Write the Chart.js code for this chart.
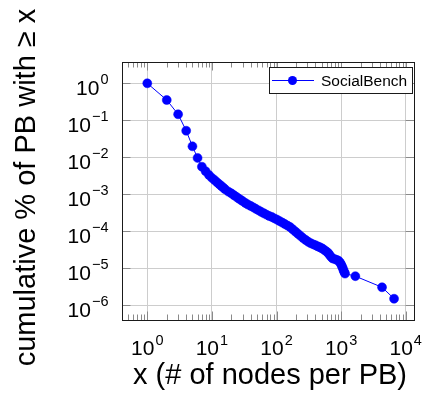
<!DOCTYPE html>
<html>
<head>
<meta charset="utf-8">
<script src="https://cdn.jsdelivr.net/npm/chart.js@4.4.0/dist/chart.umd.min.js"></script>
<style>
  html, body { margin: 0; padding: 0; background: #fff; }
  #wrap { width: 425px; height: 402px; }
</style>
</head>
<body>
<div id="wrap"><canvas id="chart" width="425" height="402"></canvas></div>
<script>
// nodes per PB and the share of PBs with at least that many nodes
var nodesPerPB = [
    1, 2, 3, 4, 5, 6, 7, 8, 9, 10,
    11, 12, 13, 14, 15, 16, 18, 20, 22, 24,
    26, 28, 30, 33, 36, 40, 44, 48, 53, 58,
    64, 70, 77, 85, 93, 102, 112, 123, 135, 148,
    162, 178, 195, 214, 235, 258, 283, 310, 340, 372,
    400, 430, 460, 495, 520, 560, 600, 630, 660, 700,
    740, 800, 860, 910, 960, 1000, 1030, 1060, 1090, 1120,
    1150, 1660, 4300, 6600
];
var cumulativeShare = [
    1, 0.353, 0.145, 0.0521, 0.0197, 0.00955, 0.00553, 0.00417, 0.00331, 0.00275,
    0.00240, 0.00209, 0.00186, 0.00166, 0.00150, 0.00136, 0.00117, 0.00105, 0.000933, 0.000841,
    0.000759, 0.000700, 0.000646, 0.000575, 0.000525, 0.000479, 0.000437, 0.000398, 0.000363, 0.000331,
    0.000302, 0.000279, 0.000257, 0.000240, 0.000221, 0.000204, 0.000186, 0.000170, 0.000155, 0.000141,
    0.000129, 0.000112, 0.0000977, 0.0000851, 0.0000741, 0.0000646, 0.0000575, 0.0000513, 0.0000468, 0.0000437,
    0.0000417, 0.0000389, 0.0000372, 0.0000347, 0.0000331, 0.0000302, 0.0000275, 0.0000257, 0.0000229, 0.0000200,
    0.0000182, 0.0000174, 0.0000166, 0.0000158, 0.0000141, 0.0000126, 0.0000112, 0.0000100, 0.00000871, 0.00000776,
    0.00000708, 0.00000603, 0.00000302, 0.00000148
];
var seriesLabel = 'SocialBench';

var xTickExponents = [0, 1, 2, 3, 4];
var yTickExponents = [0, -1, -2, -3, -4, -5, -6];
var xTitle = 'x (# of nodes per PB)';
var yTitle = 'cumulative % of PB with \u2265 x';

var FONT = '"Liberation Sans", Arial, sans-serif';
var BLUE = '#0000ff';

function decadeTicks(exps) {
    return exps.map(function (e) { return { value: Math.pow(10, e) }; });
}

function expText(e) {
    return e < 0 ? '\u2212' + (-e) : String(e);
}

// frame, inward ticks, 10^n labels, axis titles and the boxed legend
var pgfAxis = {
    id: 'pgfAxis',
    afterDraw: function (chart) {
        var ctx = chart.ctx;
        var a = chart.chartArea;
        var xs = chart.scales.x;
        var ys = chart.scales.y;
        ctx.save();

        // tick marks pointing into the plot
        ctx.strokeStyle = '#8a8a8a';
        ctx.lineWidth = 1;
        ctx.beginPath();
        for (var e = -1; e <= 4; e++) {
            for (var m = 1; m <= 9; m++) {
                var v = m * Math.pow(10, e);
                if (v <= xs.min || v >= xs.max) continue;
                var px = Math.round(xs.getPixelForValue(v)) + 0.5;
                var len = m === 1 ? 8.5 : 5.5;
                ctx.moveTo(px, a.bottom); ctx.lineTo(px, a.bottom - len);
                ctx.moveTo(px, a.top); ctx.lineTo(px, a.top + len);
            }
        }
        yTickExponents.forEach(function (e) {
            var py = Math.round(ys.getPixelForValue(Math.pow(10, e))) + 0.5;
            ctx.moveTo(a.left, py); ctx.lineTo(a.left + 8.5, py);
            ctx.moveTo(a.right, py); ctx.lineTo(a.right - 8.5, py);
        });
        ctx.stroke();

        // axis frame
        ctx.strokeStyle = '#1a1a1a';
        ctx.lineWidth = 1;
        ctx.strokeRect(Math.round(a.left) + 0.5, Math.round(a.top) + 0.5,
            Math.round(a.right - a.left), Math.round(a.bottom - a.top));

        // tick labels with superscript exponents
        var baseFont = '21px ' + FONT;
        var supFont = '14.5px ' + FONT;
        ctx.fillStyle = '#000';
        ctx.textBaseline = 'alphabetic';
        ctx.textAlign = 'left';
        xTickExponents.forEach(function (e) {
            var px = xs.getPixelForValue(Math.pow(10, e));
            ctx.font = baseFont;
            var wb = ctx.measureText('10').width;
            ctx.font = supFont;
            var we = ctx.measureText(expText(e)).width;
            var x0 = px - (wb + 1 + we) / 2;
            ctx.font = baseFont;
            ctx.fillText('10', x0, 355);
            ctx.font = supFont;
            ctx.fillText(expText(e), x0 + wb + 1, 345);
        });
        ctx.textAlign = 'right';
        yTickExponents.forEach(function (e) {
            var py = ys.getPixelForValue(Math.pow(10, e));
            ctx.font = supFont;
            var we = ctx.measureText(expText(e)).width;
            ctx.fillText(expText(e), 108.5, py + 1);
            ctx.font = baseFont;
            ctx.fillText('10', 108.5 - we - 1, py + 11.5);
        });

        // axis titles
        ctx.font = '29px ' + FONT;
        ctx.textAlign = 'center';
        ctx.fillText(xTitle, (a.left + a.right) / 2 + 2, 384);
        ctx.save();
        ctx.translate(34.5, 187.5);
        ctx.rotate(-Math.PI / 2);
        ctx.fillText(yTitle, 0, 0);
        ctx.restore();

        // legend box in the top right corner
        var ds = chart.data.datasets[0];
        ctx.fillStyle = '#fff';
        ctx.fillRect(269.5, 67.5, 143, 26);
        ctx.strokeStyle = '#1a1a1a';
        ctx.strokeRect(269.5, 67.5, 143, 26);
        ctx.strokeStyle = ds.borderColor;
        ctx.lineWidth = ds.borderWidth;
        ctx.beginPath();
        ctx.moveTo(272, 80.5); ctx.lineTo(314, 80.5);
        ctx.stroke();
        ctx.fillStyle = ds.pointBackgroundColor;
        ctx.beginPath();
        ctx.arc(292.5, 80.5, ds.pointRadius, 0, Math.PI * 2);
        ctx.fill();
        ctx.fillStyle = '#000';
        ctx.textAlign = 'left';
        ctx.font = '15.5px ' + FONT;
        ctx.fillText(ds.label, 321, 85.5);

        ctx.restore();
    }
};

var gridColor = '#cdcdcd';

var chart = new Chart(
    document.getElementById('chart'),
    {
        type: 'line',
        data: {
            datasets: [{
                label: seriesLabel,
                data: nodesPerPB.map(function (x, i) { return { x: x, y: cumulativeShare[i] }; }),
                borderColor: BLUE,
                borderWidth: 1,
                pointBackgroundColor: BLUE,
                pointBorderColor: BLUE,
                pointBorderWidth: 0.5,
                pointRadius: 4.5,
                tension: 0,
                fill: false
            }]
        },
        options: {
            responsive: false,
            animation: false,
            layout: {
                padding: { top: 62, right: 11, left: 0, bottom: 0 }
            },
            scales: {
                x: {
                    type: 'logarithmic',
                    min: 0.406,
                    max: 13430,
                    border: { display: false },
                    grid: { color: gridColor, lineWidth: 1, drawTicks: false },
                    ticks: { display: false },
                    afterBuildTicks: function (s) { s.ticks = decadeTicks(xTickExponents); },
                    afterFit: function (s) { s.height = 82; }
                },
                y: {
                    type: 'logarithmic',
                    min: 3.93e-7,
                    max: 3.77,
                    border: { display: false },
                    grid: { color: gridColor, lineWidth: 1, drawTicks: false },
                    ticks: { display: false },
                    afterBuildTicks: function (s) { s.ticks = decadeTicks(yTickExponents); },
                    afterFit: function (s) { s.width = 122; }
                }
            },
            plugins: {
                legend: { display: false },
                tooltip: { enabled: false }
            }
        },
        plugins: [pgfAxis]
    }
);
</script>
</body>
</html>
